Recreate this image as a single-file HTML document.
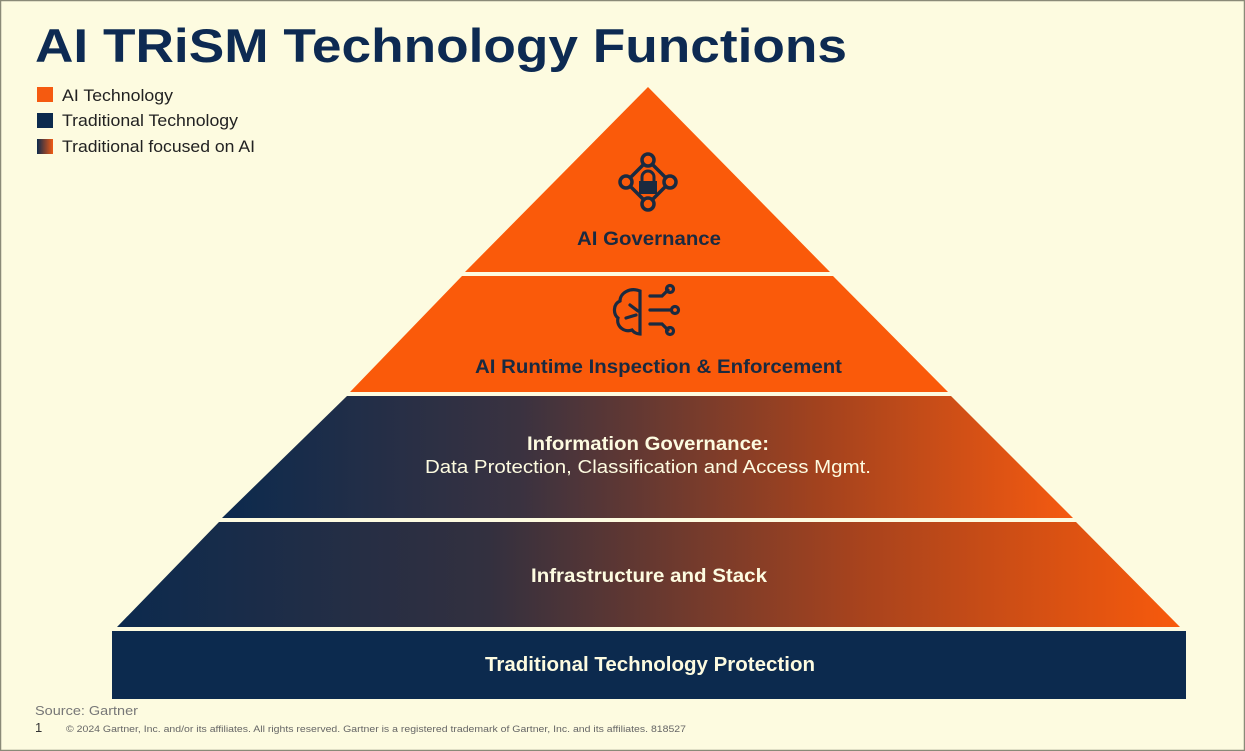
<!DOCTYPE html>
<html><head><meta charset="utf-8"><style>
html,body{margin:0;padding:0;background:#fdfbe0;}
svg{display:block;font-family:"Liberation Sans",Arial,sans-serif;}
</style></head><body>
<svg width="1245" height="751" viewBox="0 0 1245 751" xmlns="http://www.w3.org/2000/svg">
<defs>
<linearGradient id="g3" x1="222" y1="0" x2="1073" y2="0" gradientUnits="userSpaceOnUse">
<stop offset="0" stop-color="#0c2a4e"/><stop offset="0.35" stop-color="#3a3240"/><stop offset="0.7" stop-color="#a2421e"/><stop offset="1" stop-color="#f55a10"/></linearGradient>
<linearGradient id="g4" x1="117" y1="0" x2="1180" y2="0" gradientUnits="userSpaceOnUse">
<stop offset="0" stop-color="#0c2a4e"/><stop offset="0.35" stop-color="#33303f"/><stop offset="0.7" stop-color="#a8431d"/><stop offset="1" stop-color="#f85a0c"/></linearGradient>
<linearGradient id="gl" x1="0" y1="0" x2="1" y2="0"><stop offset="0" stop-color="#0c2a4e"/><stop offset="1" stop-color="#f05a14"/></linearGradient>
</defs>
<rect x="0.5" y="0.5" width="1244" height="750" fill="#fdfbe0" stroke="#8a8a78" stroke-width="1.5"/>
<text x="35" y="62" font-size="47" font-weight="bold" fill="#0d2a52" textLength="812" lengthAdjust="spacingAndGlyphs">AI TRiSM Technology Functions</text>
<rect x="37" y="87" width="16" height="15" fill="#f55a10"/>
<rect x="37" y="113" width="16" height="15" fill="#0c2a4e"/>
<rect x="37" y="139" width="16" height="15" fill="url(#gl)"/>
<g font-size="17" fill="#222">
<text x="62" y="101" textLength="111" lengthAdjust="spacingAndGlyphs">AI Technology</text>
<text x="62" y="126" textLength="176" lengthAdjust="spacingAndGlyphs">Traditional Technology</text>
<text x="62" y="152" textLength="193" lengthAdjust="spacingAndGlyphs">Traditional focused on AI</text>
</g>
<polygon points="648,87 830,272 465,272" fill="#fa5a0a"/>
<polygon points="462,276 833,276 948,392 350,392" fill="#fa5a0a"/>
<polygon points="347,396 951,396 1073,518 222,518" fill="url(#g3)"/>
<polygon points="219,522 1076,522 1180,627 117,627" fill="url(#g4)"/>
<rect x="112" y="631" width="1074" height="68" fill="#0c2a4e"/>
<g stroke="#1a2a40" stroke-width="3.5" fill="none">
<polygon points="648,160 670,182 648,204 626,182"/>
<circle cx="648" cy="160" r="6" fill="#fa5a0a"/><circle cx="670" cy="182" r="6" fill="#fa5a0a"/>
<circle cx="648" cy="204" r="6" fill="#fa5a0a"/><circle cx="626" cy="182" r="6" fill="#fa5a0a"/>
<path d="M642,181 v-4 a6,6 0 0 1 12,0 v4" stroke-width="3"/>
</g>
<rect x="639" y="181" width="18" height="13" fill="#1a2a40"/>
<g stroke="#1a2a40" stroke-width="3.2" fill="none" stroke-linecap="round">
<path d="M640,291 c-10,-4 -20,2 -20,10 c-7,3 -7,13 -2,17 c-2,8 6,15 14,12 c3,4 8,4 8,4 z"/>
<path d="M630,305 l8,6 M626,318 l10,-3"/>
<path d="M650,296 h12 l6,-6 M650,310 h20 M650,324 h12 l6,6"/>
<circle cx="670" cy="289" r="3.5"/><circle cx="675" cy="310" r="3.5"/><circle cx="670" cy="331" r="3.5"/>
</g>
<g font-weight="bold" font-size="19" lengthAdjust="spacingAndGlyphs">
<text x="577" y="245" fill="#1a2a40" textLength="144" lengthAdjust="spacingAndGlyphs">AI Governance</text>
<text x="475" y="373" fill="#1a2a40" textLength="367" lengthAdjust="spacingAndGlyphs">AI Runtime Inspection &amp; Enforcement</text>
<text x="527" y="450" fill="#fdfbe0" textLength="242" lengthAdjust="spacingAndGlyphs">Information Governance:</text>
<text x="531" y="582" fill="#fdfbe0" textLength="236" lengthAdjust="spacingAndGlyphs">Infrastructure and Stack</text>
<text x="485" y="671" font-size="20" fill="#fdfbe0" textLength="330" lengthAdjust="spacingAndGlyphs">Traditional Technology Protection</text>
</g>
<text x="425" y="473" font-size="18" fill="#fdfbe0" textLength="446" lengthAdjust="spacingAndGlyphs">Data Protection, Classification and Access Mgmt.</text>
<text x="35" y="715" font-size="13" fill="#777" textLength="103" lengthAdjust="spacingAndGlyphs">Source: Gartner</text>
<text x="35" y="732" font-size="13" fill="#333">1</text>
<text x="66" y="732" font-size="9" fill="#666" textLength="620" lengthAdjust="spacingAndGlyphs">© 2024 Gartner, Inc. and/or its affiliates. All rights reserved. Gartner is a registered trademark of Gartner, Inc. and its affiliates. 818527</text>
</svg>
</body></html>
